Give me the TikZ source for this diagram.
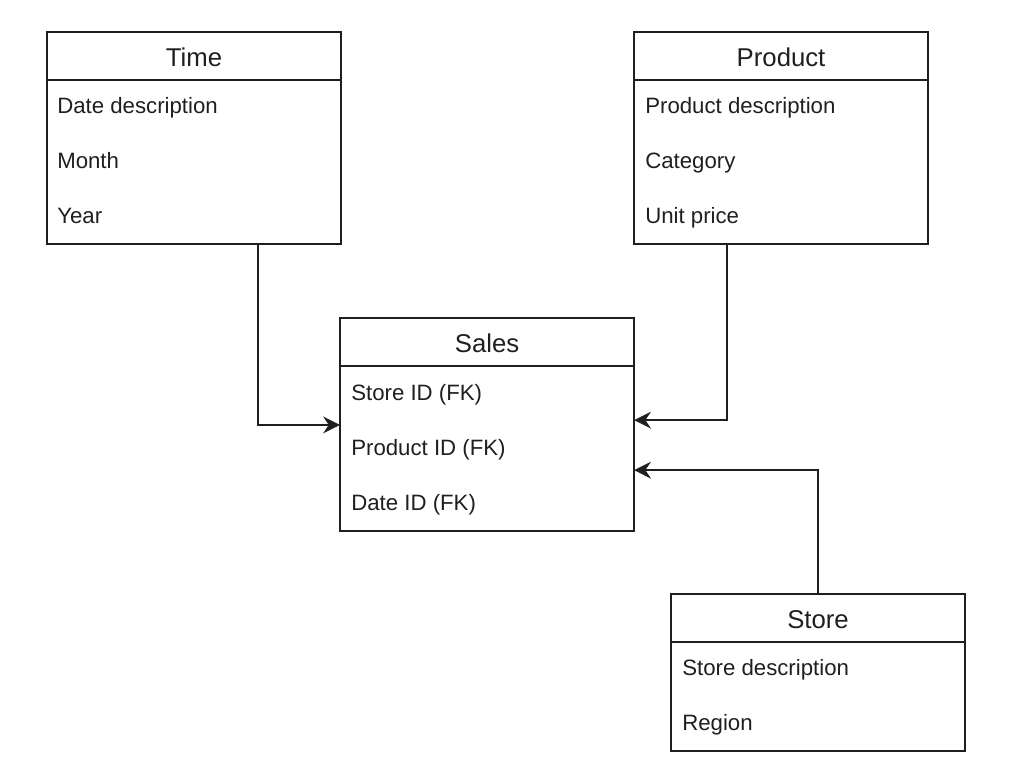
\documentclass[tikz,border=0pt]{standalone}
\usepackage{fontspec}
\setmainfont{Liberation Sans}
\usetikzlibrary{positioning,arrows.meta}

\tikzset{
  tblhdr/.style={draw=black!88, line width=1.3pt, outer sep=0pt, inner sep=0pt,
    minimum width=7.35cm, minimum height=1.2cm, text=black!88,
    text height=14.5pt, text depth=0pt, font=\fontsize{18.3}{22}\selectfont},
  tblbody/.style={draw=black!88, line width=1.3pt, outer sep=0pt, inner sep=0pt,
    minimum width=7.35cm},
  field/.style={anchor=base west, inner sep=0pt, text=black!88,
    font=\fontsize{15.8}{19}\selectfont},
  link/.style={draw=black!88, line width=1.3pt,
    -{Stealth[length=12pt, width=12pt, inset=4pt]}}
}

\begin{document}
\begin{tikzpicture}[x=0.025cm, y=-0.025cm]
\useasboundingbox (0,0) rectangle (1010,782);
% tables
\node[tblhdr, anchor=north west] (timehdr) at (47,32) {Time};
\node[tblbody, minimum height=4.1cm, below=0pt of timehdr] (timebody) {};
\node[tblhdr, anchor=north west] (prodhdr) at (634,32) {Product};
\node[tblbody, minimum height=4.1cm, below=0pt of prodhdr] (prodbody) {};
\node[tblhdr, anchor=north west] (saleshdr) at (340,318) {Sales};
\node[tblbody, minimum height=4.125cm, below=0pt of saleshdr] (salesbody) {};
\node[tblhdr, anchor=north west] (storehdr) at (671,594) {Store};
\node[tblbody, minimum height=2.725cm, below=0pt of storehdr] (storebody) {};
% fields
\node[field] (timedesc) at (57,113) {Date description};
\node[field] (timemonth) at (57,168) {Month};
\node[field] (timeyear) at (57,223) {Year};
\node[field] (proddesc) at (645,113) {Product description};
\node[field] (prodcat) at (645,168) {Category};
\node[field] (prodprice) at (645,223) {Unit price};
\node[field] (salesstore) at (351,400) {Store ID (FK)};
\node[field] (salesprod) at (351,455) {Product ID (FK)};
\node[field] (salesdate) at (351,510) {Date ID (FK)};
\node[field] (storedesc) at (682,675) {Store description};
\node[field] (storeregion) at (682,730) {Region};
% links
\draw[link] ([xshift=1.6cm]timebody.south) |- ([yshift=0.59cm]salesbody.west);
\draw[link] ([xshift=-1.36cm]prodbody.south) |- ([yshift=0.71cm]salesbody.east);
\draw[link] (storehdr.north) |- ([yshift=-0.54cm]salesbody.east);
\end{tikzpicture}
\end{document}
